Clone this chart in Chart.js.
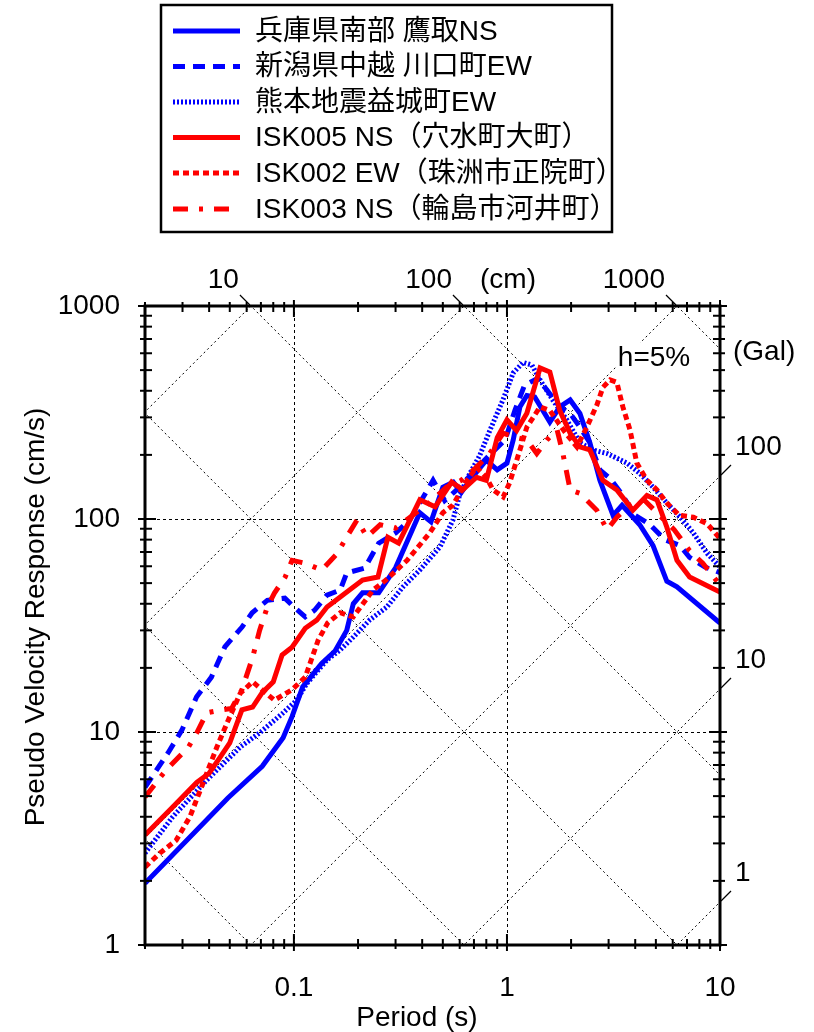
<!DOCTYPE html>
<html>
<head>
<meta charset="utf-8">
<script src="https://cdn.jsdelivr.net/npm/chart.js@4.4.1/dist/chart.umd.min.js"></script>
<style>
  html, body { margin: 0; padding: 0; background: #fff; }
  #wrap { width: 814px; height: 1032px; position: relative; }
</style>
</head>
<body>
<div id="wrap"><canvas id="chart" width="814" height="1032"></canvas></div>
<script>
// ---- response spectra (h = 5%), period in s, pseudo velocity in cm/s ----
const takatoriT  = [0.02, 0.049, 0.071, 0.089, 0.098, 0.11, 0.135, 0.156, 0.177, 0.19, 0.21, 0.25, 0.30, 0.39, 0.44, 0.50, 0.56, 0.61, 0.67, 0.80, 0.90, 1.0, 1.07, 1.15, 1.24, 1.35, 1.59, 1.77, 1.98, 2.2, 2.45, 2.73, 3.15, 3.47, 4.2, 4.85, 5.63, 6.28, 10];
const takatoriSv = [1.95, 4.9, 6.9, 9.4, 11.8, 16.3, 21, 24, 30, 40, 45, 45, 59, 107, 97, 141, 149, 133, 152, 189, 170, 183, 235, 336, 380, 374, 285, 336, 362, 313, 228, 152, 104, 116, 94, 75, 51, 48, 32.5];

const kawaguchiT  = [0.02, 0.0256, 0.0298, 0.0349, 0.041, 0.0474, 0.0571, 0.0637, 0.075, 0.0907, 0.1, 0.113, 0.125, 0.143, 0.165, 0.177, 0.215, 0.25, 0.30, 0.35, 0.45, 0.51, 0.6, 0.71, 0.83, 0.98, 1.09, 1.21, 1.40, 1.54, 1.77, 1.98, 2.2, 2.45, 2.73, 3.05, 3.4, 4.0, 4.7, 5.5, 6.5, 7.2, 8.5, 10];
const kawaguchiSv = [5.5, 7.95, 10.2, 14.6, 18.1, 25.1, 31.1, 36.3, 41.5, 42.5, 38.6, 34.7, 37.3, 43.9, 46.4, 55.8, 58.8, 77, 86, 99, 152, 122, 141, 170, 200, 235, 324, 425, 458, 403, 336, 313, 270, 228, 170, 155, 134, 104, 94, 80, 75, 66, 59.5, 56];

const mashikiT  = [0.02, 0.027, 0.039, 0.056, 0.069, 0.089, 0.103, 0.115, 0.143, 0.165, 0.19, 0.227, 0.273, 0.325, 0.39, 0.485, 0.558, 0.60, 0.67, 0.747, 0.832, 0.957, 1.07, 1.19, 1.31, 1.43, 1.64, 1.91, 2.2, 2.53, 2.95, 3.66, 4.2, 4.85, 5.63, 6.5, 7.5, 8.7, 10];
const mashikiSv = [2.7, 4.0, 5.95, 8.5, 9.9, 12.3, 14.1, 16.9, 21.8, 24.3, 27.9, 33.6, 38.6, 48, 57.6, 74, 99, 130, 164, 200, 261, 362, 485, 543, 528, 450, 362, 292, 228, 211, 203, 183, 164, 141, 119, 102, 86, 69, 59.5];

const isk005T  = [0.02, 0.027, 0.035, 0.04, 0.045, 0.05, 0.057, 0.064, 0.071, 0.08, 0.088, 0.098, 0.113, 0.128, 0.143, 0.165, 0.21, 0.248, 0.276, 0.31, 0.39, 0.46, 0.55, 0.62, 0.72, 0.8, 0.9, 1.0, 1.11, 1.24, 1.43, 1.59, 1.77, 1.98, 2.2, 2.45, 2.82, 3.28, 3.9, 4.54, 5.06, 5.63, 6.28, 7.2, 8.95, 10];
const isk005Sv = [3.28, 4.45, 5.8, 6.4, 7.6, 8.9, 12.7, 13.1, 15.3, 17.2, 23, 25, 30.7, 33.5, 38.6, 43, 51.7, 53.4, 82, 77, 123, 114, 149, 137, 157, 152, 241, 292, 260, 314, 512, 490, 323, 253, 218, 211, 152, 137, 110, 129, 123, 91.5, 64, 53.4, 48, 45.4];

const isk002T  = [0.02, 0.0235, 0.028, 0.0325, 0.036, 0.04, 0.0435, 0.0485, 0.056, 0.064, 0.081, 0.098, 0.113, 0.13, 0.144, 0.165, 0.19, 0.235, 0.27, 0.34, 0.435, 0.5, 0.557, 0.65, 0.72, 0.8, 0.86, 0.96, 1.03, 1.15, 1.24, 1.43, 1.59, 1.87, 2.13, 2.37, 2.64, 2.82, 3.05, 3.28, 3.5, 3.78, 4.07, 4.54, 5.06, 5.63, 6.45, 7.5, 8.7, 10];
const isk002Sv = [2.32, 2.7, 3.1, 4.0, 5.2, 6.85, 8.5, 11, 15.2, 17.2, 14.1, 15.8, 18.1, 27, 32.5, 36.3, 34.7, 46.4, 51.6, 64, 86.3, 107, 116, 152, 175, 157, 137, 127, 148, 211, 270, 336, 323, 256, 218, 270, 342, 415, 450, 438, 336, 262, 183, 152, 137, 119, 104, 102, 95, 81];

const isk003T  = [0.02, 0.025, 0.032, 0.035, 0.039, 0.046, 0.051, 0.057, 0.064, 0.069, 0.075, 0.081, 0.091, 0.098, 0.113, 0.135, 0.16, 0.177, 0.198, 0.22, 0.254, 0.30, 0.45, 0.52, 0.61, 0.72, 0.83, 0.96, 1.09, 1.24, 1.38, 1.54, 1.72, 1.83, 1.98, 2.2, 2.64, 2.95, 3.28, 3.78, 4.4, 5.2, 6.1, 7.2, 8.3, 10];
const isk003Sv = [4.95, 6.6, 8.5, 9.9, 12.3, 12.7, 12.9, 15.8, 22.4, 30, 38.6, 44.9, 53.4, 64, 62, 57.6, 69, 82.4, 99, 82.4, 94, 90.6, 123, 141, 152, 175, 203, 253, 242, 235, 203, 235, 262, 203, 137, 132, 110, 89, 102, 116, 123, 104, 89, 71, 62, 49];

const seriesLabels = [
  '兵庫県南部 鷹取NS',
  '新潟県中越 川口町EW',
  '熊本地震益城町EW',
  'ISK005 NS（穴水町大町）',
  'ISK002 EW（珠洲市正院町）',
  'ISK003 NS（輪島市河井町）'
];

// ---- axes ----
const periodRange   = [0.02, 10];
const velocityRange = [1, 1000];
const periodTicks    = [0.1, 1, 10];
const periodTickText = ['0.1', '1', '10'];
const velocityTicks    = [1, 10, 100, 1000];
const velocityTickText = ['1', '10', '100', '1000'];
const gridPeriods    = [0.1, 1];
const gridVelocities = [10, 100];

// tripartite guide lines: displacement (cm) and acceleration (Gal)
const dispLines   = [0.01, 0.1, 1, 10, 100, 1000];
const dispLabels  = [10, 100, 1000];
const accLines    = [1, 10, 100, 1000, 10000, 100000];
const accLabels   = [1, 10, 100];

const FONT = '"Liberation Sans", "Noto Sans CJK JP", sans-serif';
const BLUE = '#0000ff';
const RED  = '#ff0000';
const TWO_PI = 2 * Math.PI;

function pts(t, v) { return t.map((p, i) => ({ x: p, y: v[i] })); }

const styles = [
  { color: BLUE, dash: [] },
  { color: BLUE, dash: [12, 8] },
  { color: BLUE, dash: [2, 2] },
  { color: RED,  dash: [] },
  { color: RED,  dash: [6, 4] },
  { color: RED,  dash: [15, 11, 4, 11] }
];
const seriesData = [
  pts(takatoriT, takatoriSv),
  pts(kawaguchiT, kawaguchiSv),
  pts(mashikiT, mashikiSv),
  pts(isk005T, isk005Sv),
  pts(isk002T, isk002Sv),
  pts(isk003T, isk003Sv)
];

const datasets = seriesData.map((d, i) => ({
  label: seriesLabels[i],
  data: d,
  borderColor: styles[i].color,
  backgroundColor: styles[i].color,
  borderDash: styles[i].dash,
  borderWidth: 5,
  borderCapStyle: 'butt',
  borderJoinStyle: 'miter',
  pointRadius: 0,
  tension: 0,
  fill: false,
  order: seriesData.length - i
}));

function seg(ctx, x0, y0, x1, y1) {
  ctx.beginPath(); ctx.moveTo(x0, y0); ctx.lineTo(x1, y1); ctx.stroke();
}

const tripartite = {
  id: 'tripartite',
  beforeDatasetsDraw(chart) {
    const { ctx, chartArea: a, scales: { x, y } } = chart;
    ctx.save();
    ctx.beginPath();
    ctx.rect(a.left, a.top, a.right - a.left, a.bottom - a.top);
    ctx.clip();
    ctx.strokeStyle = '#000';
    ctx.lineWidth = 1;

    // dashed grid
    ctx.setLineDash([3, 3]);
    gridPeriods.forEach(t => {
      const px = Math.round(x.getPixelForValue(t)) + 0.5;
      seg(ctx, px, a.top, px, a.bottom);
    });
    gridVelocities.forEach(v => {
      const py = Math.round(y.getPixelForValue(v)) + 0.5;
      seg(ctx, a.left, py, a.right, py);
    });

    // dotted diagonals
    ctx.setLineDash([2, 3]);
    const t0 = 0.001, t1 = 100;
    dispLines.forEach(d => {
      seg(ctx, x.getPixelForValue(t0), y.getPixelForValue(TWO_PI * d / t0),
               x.getPixelForValue(t1), y.getPixelForValue(TWO_PI * d / t1));
    });
    accLines.forEach(g => {
      seg(ctx, x.getPixelForValue(t0), y.getPixelForValue(g * t0 / TWO_PI),
               x.getPixelForValue(t1), y.getPixelForValue(g * t1 / TWO_PI));
    });
    ctx.restore();

    // damping note on a white patch
    ctx.save();
    ctx.font = '28px ' + FONT;
    ctx.textAlign = 'center';
    ctx.textBaseline = 'middle';
    const w = ctx.measureText('h=5%').width;
    ctx.fillStyle = '#fff';
    ctx.fillRect(654 - w / 2 - 2, 343, w + 4, 28);
    ctx.fillStyle = '#000';
    ctx.fillText('h=5%', 654, 358);
    ctx.restore();
  },
  afterDatasetsDraw(chart) {
    const { ctx, chartArea: a, scales: { x, y } } = chart;
    ctx.save();
    ctx.strokeStyle = '#000';
    ctx.fillStyle = '#000';
    ctx.setLineDash([]);

    // ticks on all four sides, crossing the frame
    ctx.lineWidth = 2;
    for (let e = -2; e <= 1; e++) {
      for (let m = 1; m <= 9; m++) {
        const t = m * Math.pow(10, e);
        if (t < periodRange[0] - 1e-9 || t > periodRange[1] + 1e-9) continue;
        const px = x.getPixelForValue(t);
        const inner = m === 1 ? 11 : 6, outer = m === 1 ? 6 : 4;
        seg(ctx, px, a.bottom + outer, px, a.bottom - inner);
        seg(ctx, px, a.top - outer, px, a.top + inner);
      }
    }
    for (let e = 0; e <= 3; e++) {
      for (let m = 1; m <= 9; m++) {
        const v = m * Math.pow(10, e);
        if (v < velocityRange[0] || v > velocityRange[1]) continue;
        const py = y.getPixelForValue(v);
        const inner = m === 1 ? 11 : 7, outer = m === 1 ? 7 : 5;
        seg(ctx, a.left - outer, py, a.left + inner, py);
        seg(ctx, a.right + outer, py, a.right - inner, py);
      }
    }

    // frame
    ctx.lineWidth = 3;
    ctx.strokeRect(a.left, a.top, a.right - a.left, a.bottom - a.top);

    // guide-line stubs outside the frame
    ctx.lineWidth = 1.2;
    dispLabels.forEach(d => {
      const px = x.getPixelForValue(TWO_PI * d / velocityRange[1]);
      seg(ctx, px - 1, a.top - 1, px - 11, a.top - 11);
    });
    accLabels.forEach(g => {
      const py = y.getPixelForValue(g * periodRange[1] / TWO_PI);
      seg(ctx, a.right + 1, py - 1, a.right + 11, py - 11);
    });

    // tick labels
    ctx.font = '28px ' + FONT;
    ctx.textBaseline = 'middle';
    ctx.textAlign = 'center';
    periodTicks.forEach((t, i) => ctx.fillText(periodTickText[i], x.getPixelForValue(t), 988));
    ctx.textAlign = 'right';
    velocityTicks.forEach((v, i) => ctx.fillText(velocityTickText[i], 120, y.getPixelForValue(v)));

    // displacement labels along the top
    dispLabels.forEach(d => {
      const px = x.getPixelForValue(TWO_PI * d / velocityRange[1]);
      ctx.textAlign = 'right';
      ctx.fillText(String(d), px - 12, 280);
    });
    ctx.textAlign = 'center';
    ctx.fillText('(cm)', 508, 280);

    // acceleration labels along the right
    ctx.textAlign = 'left';
    accLabels.forEach(g => {
      const py = y.getPixelForValue(g * periodRange[1] / TWO_PI);
      ctx.fillText(String(g), 735, py - 29);
    });
    ctx.fillText('(Gal)', 733, 352);

    // axis titles
    ctx.textAlign = 'center';
    ctx.fillText('Period (s)', 417, 1018);
    ctx.save();
    ctx.translate(36, 617);
    ctx.rotate(-Math.PI / 2);
    ctx.fillText('Pseudo Velocity Response (cm/s)', 0, 0);
    ctx.restore();

    // legend box
    ctx.lineWidth = 2.5;
    ctx.strokeRect(161, 5, 451, 227);
    const rowY = [31, 66.5, 102, 137.5, 173, 209];
    chart.data.datasets.forEach((ds, i) => {
      ctx.save();
      ctx.strokeStyle = ds.borderColor;
      ctx.lineWidth = ds.borderWidth;
      ctx.setLineDash(ds.borderDash);
      seg(ctx, 173, rowY[i], 240, rowY[i]);
      ctx.restore();
      ctx.font = '28px ' + FONT;
      ctx.textAlign = 'left';
      ctx.fillStyle = '#000';
      ctx.fillText(ds.label, 255, rowY[i] + 1);
    });
    ctx.restore();
  }
};

new Chart(document.getElementById('chart'), {
  type: 'line',
  data: { datasets },
  options: {
    responsive: false,
    devicePixelRatio: 1,
    animation: false,
    layout: { padding: { left: 145, right: 94, top: 306, bottom: 87 } },
    plugins: { legend: { display: false }, tooltip: { enabled: false } },
    scales: {
      x: { type: 'logarithmic', min: periodRange[0], max: periodRange[1], display: false },
      y: { type: 'logarithmic', min: velocityRange[0], max: velocityRange[1], display: false }
    }
  },
  plugins: [tripartite]
});
</script>
</body>
</html>
